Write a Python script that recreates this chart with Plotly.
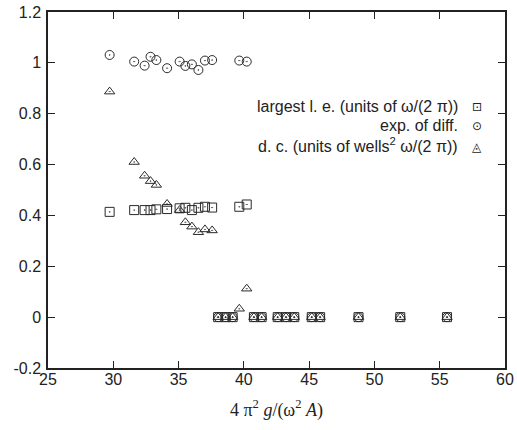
import plotly.graph_objects as go

# x values (4 pi^2 g / (omega^2 A))
x_vals = [29.72, 31.60, 32.40, 32.85, 33.30, 34.12, 35.08, 35.52, 36.02, 36.52,
          37.02, 37.57, 38.03, 38.60, 39.14, 39.65, 40.22, 40.77, 41.36, 42.59,
          43.23, 43.86, 45.20, 45.84, 48.78, 51.98, 55.56]

largest_le = [0.414, 0.421, 0.421, 0.421, 0.424, 0.425, 0.428, 0.430, 0.421, 0.430,
              0.434, 0.431, 0.0, 0.0, 0.0, 0.434, 0.443, 0.0, 0.0, 0.0,
              0.0, 0.0, 0.0, 0.0, 0.0, 0.0, 0.0]

exp_diff = [1.031, 1.005, 0.989, 1.024, 1.011, 0.979, 1.005, 0.988, 0.994, 0.972,
            1.009, 1.011, 0.0, 0.0, 0.0, 1.009, 1.005, 0.0, 0.0, 0.0,
            0.0, 0.0, 0.0, 0.0, 0.0, 0.0, 0.0]

dc = [0.887, 0.610, 0.556, 0.535, 0.520, 0.445, 0.421, 0.373, 0.356, 0.334,
      0.345, 0.341, 0.0, 0.0, 0.0, 0.033, 0.112, 0.0, 0.0, 0.0,
      0.0, 0.0, 0.0, 0.0, 0.0, 0.0, 0.0]

legend_labels = ["largest l. e. (units of ω/(2 π))",
                 "exp. of diff.",
                 "d. c. (units of wells<sup>2</sup> ω/(2 π))"]
legend_glyphs = ["⊡", "⊙", "◬"]

x_ticks = [25, 30, 35, 40, 45, 50, 55, 60]
y_ticks = [-0.2, 0, 0.2, 0.4, 0.6, 0.8, 1, 1.2]
y_ticktext = ["-0.2", "0", "0.2", "0.4", "0.6", "0.8", "1", "1.2"]

col = "#2a2a2a"
fig = go.Figure()
fig.add_trace(go.Scatter(x=x_vals, y=exp_diff, mode="markers",
                         marker=dict(symbol="circle-open-dot", size=9, color=col,
                                     line=dict(width=1, color=col)),
                         showlegend=False))
fig.add_trace(go.Scatter(x=x_vals, y=largest_le, mode="markers",
                         marker=dict(symbol="square-open-dot", size=9, color=col,
                                     line=dict(width=1, color=col)),
                         showlegend=False))
fig.add_trace(go.Scatter(x=x_vals, y=dc, mode="markers",
                         marker=dict(symbol="triangle-up-open-dot", size=9, color=col,
                                     line=dict(width=1, color=col)),
                         showlegend=False))

rows_y = [0.734, 0.680, 0.626]
glyph_y = [0.734, 0.680, 0.621]
for lab, gl, yy, gy in zip(legend_labels, legend_glyphs, rows_y, glyph_y):
    fig.add_annotation(x=0.901, y=yy, xref="paper", yref="paper", text=lab,
                       showarrow=False, xanchor="right", yanchor="middle",
                       font=dict(family="Liberation Sans", size=16, color="#222"))
    fig.add_annotation(x=0.938, y=gy, xref="paper", yref="paper", text=gl,
                       showarrow=False, xanchor="center", yanchor="middle",
                       font=dict(family="DejaVu Sans", size=12, color="#222"))

axis_common = dict(showline=True, linecolor="#222", linewidth=1.5, mirror="ticks",
                   ticks="inside", ticklen=7, tickcolor="#222", tickwidth=1,
                   showgrid=False, zeroline=False, automargin=False,
                   tickfont=dict(family="Liberation Sans", size=16, color="#222"))

fig.update_layout(
    width=517, height=430,
    margin=dict(l=48, r=12, t=12, b=62),
    paper_bgcolor="white", plot_bgcolor="white",
    xaxis=dict(range=[25, 60], tickvals=x_ticks, ticklabelstandoff=-4,
               title=dict(text="4 π<sup>2</sup> <i>g</i>/(ω<sup>2</sup> <i>A</i>)",
                          font=dict(family="Liberation Serif", size=18, color="#222"),
                          standoff=16),
               **axis_common),
    yaxis=dict(range=[-0.2, 1.2], tickvals=y_ticks, ticktext=y_ticktext,
               ticklabelstandoff=2, **axis_common),
)

fig.write_html("out.html", config={"displayModeBar": False},
               post_script="document.body.style.margin='0';")
